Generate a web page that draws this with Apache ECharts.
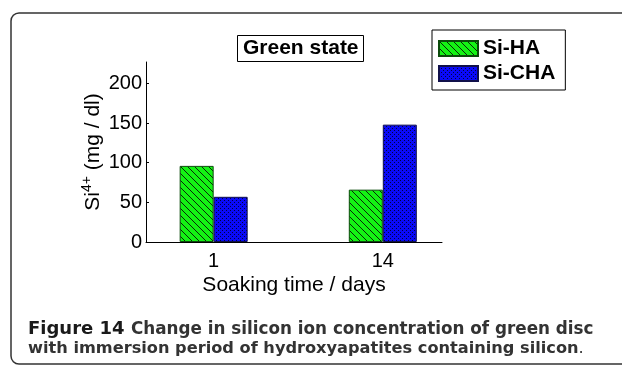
<!DOCTYPE html>
<html>
<head>
<meta charset="utf-8">
<script src="https://cdn.jsdelivr.net/npm/echarts@6/dist/echarts.min.js"></script>
<style>
  html, body { margin: 0; padding: 0; background: #fff; }
  #chart { width: 622px; height: 367px; }
</style>
</head>
<body>
<div id="chart"></div>
<script>
// Soaking time points (days) and silicon ion concentration (mg/dl)
const days = ['1', '14'];
const siHA = [96, 66];
const siCHA = [57, 148];
const yTicks = [0, 50, 100, 150, 200];
const seriesNames = ['Si-HA', 'Si-CHA'];

// Diagonal hatch tile for Si-HA bars
function hatchPattern() {
  const c = document.createElement('canvas');
  c.width = 7; c.height = 7;
  const g = c.getContext('2d');
  g.fillStyle = '#14f214';
  g.fillRect(0, 0, 7, 7);
  g.strokeStyle = '#082808';
  g.lineWidth = 1;
  g.beginPath();
  g.moveTo(-1, -1); g.lineTo(8, 8);
  g.moveTo(-8, -1); g.lineTo(1, 8);
  g.moveTo(6, -1); g.lineTo(15, 8);
  g.stroke();
  return c;
}

// Dotted tile for Si-CHA bars
function dotPattern() {
  const c = document.createElement('canvas');
  c.width = 4; c.height = 4;
  const g = c.getContext('2d');
  g.fillStyle = '#0a0af8';
  g.fillRect(0, 0, 4, 4);
  g.fillStyle = 'rgba(0,0,30,0.85)';
  [[0,0],[2,2]].forEach(p => g.fillRect(p[0], p[1], 1, 1));
  return c;
}

const chart = echarts.init(document.getElementById('chart'), null, { renderer: 'canvas' });

const positions = days.map((d, i) => i + 1);

chart.setOption({
  animation: false,
  backgroundColor: '#fff',
  title: {
    text: 'Green state',
    left: 237, top: 35,
    padding: [3, 5, 3, 6],
    borderColor: '#000', borderWidth: 1,
    textStyle: { fontFamily: 'Liberation Sans', fontWeight: 'bold', fontSize: 21, color: '#000' }
  },
  legend: {
    orient: 'vertical',
    left: 432, top: 30,
    padding: [8, 10, 6, 6],
    itemGap: 4,
    itemWidth: 39, itemHeight: 15,
    icon: 'rect',
    borderColor: '#000', borderWidth: 1,
    data: seriesNames,
    textStyle: { fontFamily: 'Liberation Sans', fontWeight: 'bold', fontSize: 21, color: '#000' }
  },
  grid: { left: 146, right: 180, top: 62, bottom: 125 },
  xAxis: {
    type: 'value',
    min: 0.6, max: 2.35,
    splitLine: { show: false },
    axisLine: { show: true, lineStyle: { color: '#000', width: 1 } },
    axisTick: { show: false },
    axisLabel: {
      customValues: positions,
      formatter: v => days[Math.round(v) - 1],
      fontFamily: 'Liberation Sans', fontSize: 20, color: '#000', margin: 9
    },
    name: 'Soaking time / days',
    nameLocation: 'middle',
    nameGap: 33,
    nameTextStyle: { fontFamily: 'Liberation Sans', fontSize: 21, color: '#000' }
  },
  yAxis: {
    type: 'value',
    min: 0, max: 227,
    splitLine: { show: false },
    axisLine: { show: true, lineStyle: { color: '#000', width: 1 } },
    axisTick: { show: true, inside: true, length: 3, customValues: yTicks, lineStyle: { color: '#000' } },
    axisLabel: {
      customValues: yTicks,
      fontFamily: 'Liberation Sans', fontSize: 20, color: '#000', margin: 4
    },
    name: '{b|Si}{s|4+}{b| (mg / dl)}',
    nameLocation: 'middle',
    nameRotate: 90,
    nameGap: 42,
    nameTextStyle: {
      rich: {
        b: { fontFamily: 'Liberation Sans', fontSize: 21, color: '#000', verticalAlign: 'bottom' },
        s: { fontFamily: 'Liberation Sans', fontSize: 14, color: '#000', verticalAlign: 'top', padding: [0, 0, 10, 0] }
      }
    }
  },
  series: [
    {
      name: seriesNames[0], type: 'bar', barWidth: 34, barGap: '0%',
      itemStyle: { color: { image: hatchPattern(), repeat: 'repeat' }, borderColor: '#0b4a0b', borderWidth: 1 },
      data: positions.map((x, i) => [x, siHA[i]])
    },
    {
      name: seriesNames[1], type: 'bar', barWidth: 34, barGap: '0%',
      itemStyle: { color: { image: dotPattern(), repeat: 'repeat' }, borderColor: '#10104a', borderWidth: 1 },
      data: positions.map((x, i) => [x, siCHA[i]])
    }
  ],
  graphic: [
    {
      type: 'rect', silent: true,
      shape: { x: 11, y: 13, width: 700, height: 351, r: 8 },
      style: { fill: 'none', stroke: '#333', lineWidth: 1.5 }
    },
    {
      type: 'text', left: 28, top: 320,
      style: {
        text: 'Figure 14',
        fontFamily: 'DejaVu Sans', fontWeight: 'bold', fontSize: 18, fill: '#1a1a1a'
      }
    },
    {
      type: 'text', left: 131, top: 321,
      style: {
        text: 'Change in silicon ion concentration of green disc',
        fontFamily: 'DejaVu Sans', fontWeight: 'bold', fontSize: 16.8, fill: '#333'
      }
    },
    {
      type: 'text', left: 28, top: 341,
      style: {
        text: '{t|with immersion period of hydroxyapatites containing silicon}{p|.}',
        rich: {
          t: { fontFamily: 'DejaVu Sans', fontWeight: 'bold', fontSize: 16.2, fill: '#333' },
          p: { fontFamily: 'DejaVu Sans', fontSize: 16.2, fill: '#333' }
        }
      }
    }
  ]
});
</script>
</body>
</html>
